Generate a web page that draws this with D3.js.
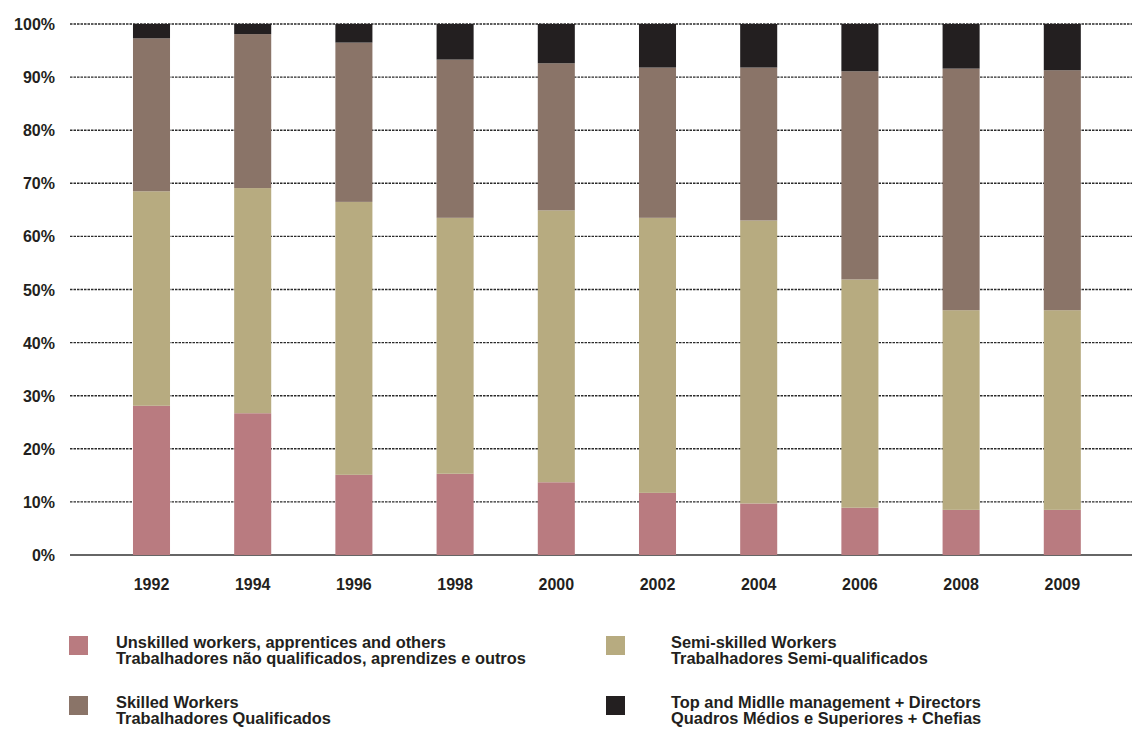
<!DOCTYPE html>
<html>
<head>
<meta charset="utf-8">
<script src="https://cdn.jsdelivr.net/npm/d3@7"></script>
<style>
  html, body { margin: 0; padding: 0; background: #fff; }
  svg { display: block; }
  text { font-family: "Liberation Sans", Arial, sans-serif; fill: #231f20; }
</style>
</head>
<body>
<svg id="chart" width="1132" height="729"></svg>
<script>
// Workforce composition by qualification level (% of total)
const years = ["1992", "1994", "1996", "1998", "2000", "2002", "2004", "2006", "2008", "2009"];
const unskilled  = [28.1, 26.7, 15.1, 15.3, 13.7, 11.7,  9.7,  8.9,  8.5,  8.5];
const semiSkilled = [40.4, 42.4, 51.4, 48.2, 51.2, 51.8, 53.3, 43.0, 37.6, 37.6];
const skilled    = [28.8, 29.0, 30.0, 29.8, 27.7, 28.3, 28.8, 39.2, 45.5, 45.2];
const management = [ 2.7,  1.9,  3.5,  6.7,  7.4,  8.2,  8.2,  8.9,  8.4,  8.7];
const yTicks = [0, 10, 20, 30, 40, 50, 60, 70, 80, 90, 100];

const seriesKeys = ["unskilled", "semi", "skilled", "mgmt"];
const seriesColors = ["#b97b80", "#b7ab80", "#8a7468", "#231f20"];
const legendLines = [
  ["Unskilled workers, apprentices and others", "Trabalhadores não qualificados, aprendizes e outros"],
  ["Semi-skilled Workers", "Trabalhadores Semi-qualificados"],
  ["Skilled Workers", "Trabalhadores Qualificados"],
  ["Top and Midlle management + Directors", "Quadros Médios e Superiores + Chefias"]
];

const rows = years.map((y, i) => ({
  year: y,
  unskilled: unskilled[i],
  semi: semiSkilled[i],
  skilled: skilled[i],
  mgmt: management[i]
}));

const svg = d3.select("#chart");
const plotLeft = 70, plotRight = 1132, plotTop = 24, plotBottom = 555;

const x = d3.scaleBand()
  .domain(years)
  .range([100.9, 1112.9])
  .paddingInner(0.634)
  .paddingOuter(0.317);

const y = d3.scaleLinear().domain([0, 100]).range([plotBottom, plotTop]);

// Horizontal gridlines
svg.append("g")
  .selectAll("line")
  .data(yTicks.filter(t => t > 0))
  .join("line")
  .attr("x1", plotLeft).attr("x2", plotRight)
  .attr("y1", d => y(d)).attr("y2", d => y(d))
  .attr("stroke", "#2a2a2a")
  .attr("stroke-width", 1.4)
  .attr("stroke-dasharray", "2.5,1");

// Baseline
svg.append("line")
  .attr("x1", plotLeft).attr("x2", plotRight)
  .attr("y1", y(0)).attr("y2", y(0))
  .attr("stroke", "#666").attr("stroke-width", 2);

// Y axis labels
svg.append("g")
  .selectAll("text")
  .data(yTicks)
  .join("text")
  .attr("x", 55)
  .attr("y", d => y(d) + 6)
  .attr("text-anchor", "end")
  .attr("font-size", 16)
  .attr("font-weight", "bold")
  .text(d => d + "%");

// Stacked bars
const stacked = d3.stack().keys(seriesKeys)(rows);
svg.append("g")
  .selectAll("g")
  .data(stacked)
  .join("g")
  .attr("fill", (d, i) => seriesColors[i])
  .selectAll("rect")
  .data(d => d)
  .join("rect")
  .attr("x", d => x(d.data.year))
  .attr("width", x.bandwidth())
  .attr("y", d => y(d[1]))
  .attr("height", d => y(d[0]) - y(d[1]));

// X axis labels
svg.append("g")
  .selectAll("text")
  .data(years)
  .join("text")
  .attr("x", d => x(d) + x.bandwidth() / 2)
  .attr("y", 590)
  .attr("text-anchor", "middle")
  .attr("font-size", 16)
  .attr("font-weight", "bold")
  .text(d => d);

// Legend
const legendPos = [
  { sx: 69, tx: 116, y: 636 },
  { sx: 606, tx: 671, y: 636 },
  { sx: 69, tx: 116, y: 696 },
  { sx: 606, tx: 671, y: 696 }
];
const legend = svg.append("g")
  .selectAll("g")
  .data(seriesKeys)
  .join("g");
legend.append("rect")
  .attr("x", (d, i) => legendPos[i].sx)
  .attr("y", (d, i) => legendPos[i].y)
  .attr("width", 19).attr("height", 19)
  .attr("fill", (d, i) => seriesColors[i]);
legend.each(function (d, i) {
  const g = d3.select(this);
  legendLines[i].forEach((line, j) => {
    g.append("text")
      .attr("x", legendPos[i].tx)
      .attr("y", legendPos[i].y + 12 + j * 16)
      .attr("font-size", 16.4)
      .attr("font-weight", "bold")
      .text(line);
  });
});
</script>
</body>
</html>
